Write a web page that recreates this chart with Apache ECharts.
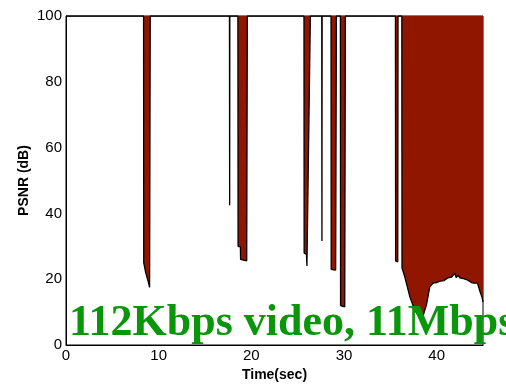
<!DOCTYPE html>
<html>
<head>
<meta charset="utf-8">
<script src="https://cdn.jsdelivr.net/npm/echarts@6/dist/echarts.min.js"></script>
<style>html,body{margin:0;padding:0;background:#fff;}#c{width:506px;height:385px;}</style>
</head>
<body>
<div id="c"></div>
<script>
var timeSec = [
  0, 8.37, 8.39, 8.6, 8.85, 9.02, 9.09,
  17.64, 17.66, 17.68,
  18.55, 18.57, 18.82, 18.84, 19.0, 19.5, 19.57,
  25.68, 25.7, 25.95, 26.0, 26.2, 26.37,
  27.6, 27.62, 27.64,
  28.6, 28.62, 29.1, 29.18,
  29.61, 29.63, 30.08, 30.15,
  35.55, 35.57, 35.8, 35.83,
  36.24, 36.26, 36.55, 37.1, 37.64, 38.1, 38.5, 38.9, 39.26, 39.61,
  39.8, 40.0, 40.2, 40.4, 40.6, 40.8, 41.0, 41.2, 41.4, 41.6, 41.8, 41.95,
  42.1, 42.3, 42.5, 42.7, 42.9, 43.1, 43.3, 43.5, 43.8, 44.1, 44.4, 44.6,
  44.7, 44.9, 45
];
var psnr = [
  100, 100, 25, 22, 19.5, 17.5, 100,
  100, 42.5, 100,
  100, 30, 29.8, 26, 25.6, 25.6, 100,
  100, 28, 27.5, 24, 23.7, 100,
  100, 31.6, 100,
  100, 23, 22.8, 100,
  100, 12, 11.6, 100,
  100, 25.5, 25.3, 100,
  100, 23.4, 20.8, 14.7, 10.5, 8.6, 8.6, 12.2, 17.7, 18.8,
  19.3, 19.0, 19.6, 19.4, 19.9, 19.6, 20.2, 20.4, 19.8, 20.6, 21.0, 21.8,
  20.5, 21.2, 20.4, 19.9, 20.2, 19.7, 19.8, 19.3, 18.9, 18.8, 18.8, 18.3,
  16, 14.5, 13
];
var xTicks = [0, 10, 20, 30, 40];
var yTicks = [0, 20, 40, 60, 80, 100];
var overlayText = '112Kbps video, 11Mbps';

var data = timeSec.map(function (t, i) { return [t, psnr[i]]; });
var chart = echarts.init(document.getElementById('c'), null, {renderer: 'canvas'});
var sans = '"Liberation Sans", Arial, sans-serif';
chart.setOption({
  animation: false,
  backgroundColor: '#fff',
  grid: {left: 66, right: 23, top: 16, bottom: 40, show: true, borderColor: '#000', borderWidth: 1,
    backgroundColor: 'transparent', containLabel: false, outerBoundsMode: 'none'},
  xAxis: {
    type: 'value', min: 0, max: 45, interval: 10,
    name: 'Time(sec)', nameLocation: 'middle', nameGap: 23, nameMoveOverlap: false,
    nameTextStyle: {fontFamily: sans, fontWeight: 'bold', fontSize: 14, color: '#000'},
    axisLine: {show: true, lineStyle: {color: '#000', width: 1}},
    axisTick: {show: false},
    splitLine: {show: false},
    axisLabel: {fontFamily: sans, fontSize: 15, color: '#000', margin: 3,
      formatter: function (v) { return xTicks.indexOf(v) >= 0 ? String(v) : ''; }}
  },
  yAxis: {
    type: 'value', min: 0, max: 100, interval: 20,
    name: 'PSNR (dB)', nameLocation: 'middle', nameGap: 35, nameMoveOverlap: false,
    nameTextStyle: {fontFamily: sans, fontWeight: 'bold', fontSize: 14, color: '#000'},
    axisLine: {show: true, lineStyle: {color: '#000', width: 1}},
    axisTick: {show: false},
    splitLine: {show: false},
    axisLabel: {fontFamily: sans, fontSize: 15, color: '#000', margin: 4,
      formatter: function (v) { return yTicks.indexOf(v) >= 0 ? String(v) : ''; }}
  },
  series: [{
    type: 'line', data: data, symbol: 'none', smooth: false,
    lineStyle: {color: '#000', width: 1.3},
    areaStyle: {color: '#901600', opacity: 1, origin: 'end'},
    z: 2
  }],
  graphic: [{
    type: 'text', left: 69, top: 302, z: 100,
    style: {text: overlayText, font: 'bold 44px "Liberation Serif", "Times New Roman", serif', fill: '#0a960a'}
  }]
});
</script>
</body>
</html>
